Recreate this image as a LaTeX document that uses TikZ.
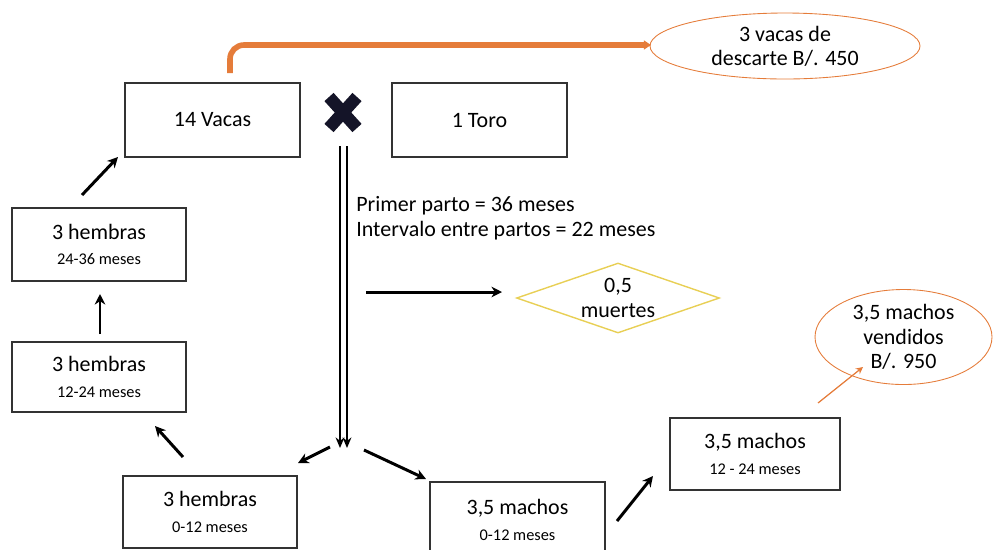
\documentclass[tikz,border=0pt]{standalone}
\usepackage{fontspec}
\setmainfont{Carlito}
\usetikzlibrary{shapes.geometric,arrows.meta}
\definecolor{orng}{HTML}{E57C3A}
\definecolor{ylw}{HTML}{E8CF55}
\definecolor{navy}{HTML}{141428}
\tikzset{
  box/.style={draw=black!80, line width=0.7pt, fill=white, align=center, inner sep=0pt},
  big/.style={font=\fontsize{12.5}{14.5}\selectfont},
  arr/.style={line width=1.7pt, -{Stealth[length=6pt,width=6pt]}},
  oval/.style={draw=orng, ellipse, line width=0.5pt, align=center, font=\fontsize{12.5}{13.8}\selectfont, inner sep=0pt},
}
\newcommand{\sm}[1]{{\fontsize{9.3}{11}\selectfont #1}}
\begin{document}
\begin{tikzpicture}[x=0.02cm,y=-0.02cm]
\useasboundingbox (0,0) rectangle (993,549);
\begin{scope}
\clip (0,0) rectangle (993,549);
% boxes
\node[box,big,minimum width=175*0.02cm,minimum height=74*0.02cm] (vacas) at (212.5,120) {14 Vacas};
\node[box,big,minimum width=175*0.02cm,minimum height=74*0.02cm] (toro) at (479.5,120) {1 Toro};
\node[box,big,minimum width=174*0.02cm,minimum height=73*0.02cm] (h2436) at (99,244.5) {3 hembras\\\sm{24-36 meses}};
\node[box,big,minimum width=174*0.02cm,minimum height=70*0.02cm] (h1224) at (99,377) {3 hembras\\\sm{12-24 meses}};
\node[box,big,minimum width=174*0.02cm,minimum height=72*0.02cm] (h012) at (210,512) {3 hembras\\\sm{0-12 meses}};
\node[box,big,minimum width=175*0.02cm,minimum height=76*0.02cm] (m012) at (517.5,520) {3,5 machos\\\sm{0-12 meses}};
\node[box,big,minimum width=170*0.02cm,minimum height=72*0.02cm] (m1224) at (755,454) {3,5 machos\\\sm{12 - 24 meses}};
\end{scope}
% diamond
\node[draw=ylw, line width=0.8pt, diamond, aspect=2.9, minimum width=203*0.02cm, minimum height=70*0.02cm, inner sep=0pt, align=center, big] (muertes) at (618,298) {0,5\\muertes};
% ovals
\node[oval, minimum width=270*0.02cm, minimum height=66*0.02cm] (descarte) at (785,46) {3 vacas de\\descarte B/. 450};
\node[oval, minimum width=177*0.02cm, minimum height=95*0.02cm] (vendidos) at (903.5,337) {3,5 machos\\vendidos\\B/. 950};
% X symbol
\node[inner sep=0pt, minimum size=40*0.02cm] (xs) at (343,112) {};
\draw[navy, line width=7pt] (329,97) -- (357,128) (357,97) -- (329,128);
% text
\node[anchor=west, align=left, inner sep=0pt, font=\fontsize{12.5}{14.5}\selectfont] (txt) at (356,218) {Primer parto = 36 meses\\Intervalo entre partos = 22 meses};
% coordinates
\coordinate (d1s) at (340,146); \coordinate (d1e) at (340,448);
\coordinate (d2s) at (347,146); \coordinate (d2e) at (347,448);
\coordinate (a1s) at (82,195); \coordinate (a1e) at (118,157);
\coordinate (a2s) at (100,334); \coordinate (a2e) at (100,294);
\coordinate (a3s) at (183,457); \coordinate (a3e) at (155,426);
\coordinate (a4s) at (330,447); \coordinate (a4e) at (298,463);
\coordinate (a5s) at (364,450); \coordinate (a5e) at (426,479);
\coordinate (a6s) at (617,521); \coordinate (a6e) at (653,476);
\coordinate (a7s) at (366,292); \coordinate (a7e) at (502,292);
\coordinate (o1s) at (230,73); \coordinate (o1e) at (651,45);
\coordinate (o2s) at (818,403); \coordinate (o2e) at (863,367);
% arrows
\draw[line width=1.3pt, -{Stealth[length=6pt,width=5pt]}] (d1s) -- (d1e);
\draw[line width=1.3pt, -{Stealth[length=6pt,width=5pt]}] (d2s) -- (d2e);
\draw[arr] (a1s) -- (a1e);
\draw[arr] (a2s) -- (a2e);
\draw[arr] (a3s) -- (a3e);
\draw[arr] (a4s) -- (a4e);
\draw[arr] (a5s) -- (a5e);
\draw[arr] (a6s) -- (a6e);
\draw[arr] (a7s) -- (a7e);
\draw[orng, line width=3.2pt, rounded corners=8pt, -{Triangle[length=4pt,width=5pt]}] (o1s) |- (o1e);
\draw[orng, line width=0.7pt, -{Stealth[length=4pt,width=4pt]}] (o2s) -- (o2e);
\end{tikzpicture}
\end{document}
